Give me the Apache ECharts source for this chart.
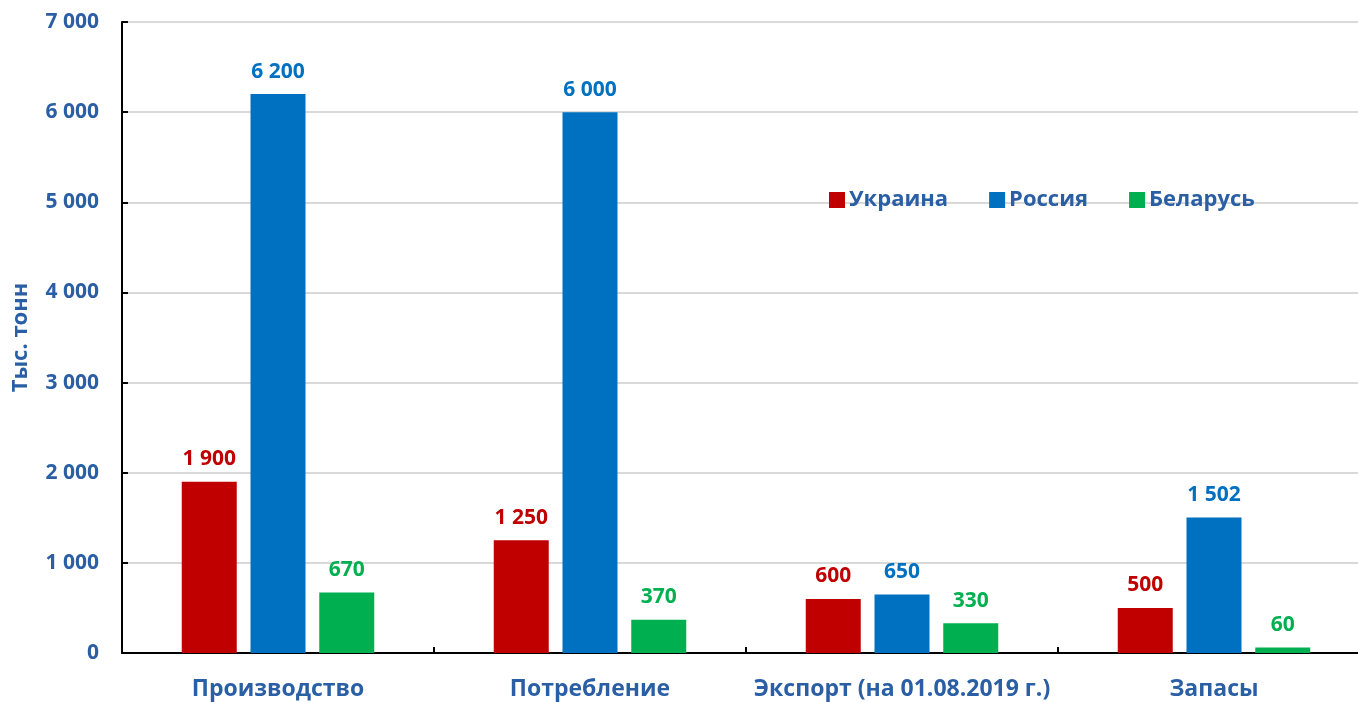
<!DOCTYPE html>
<html>
<head>
<meta charset="utf-8">
<script src="https://cdn.jsdelivr.net/npm/echarts@6/dist/echarts.min.js"></script>
<style>
  html, body { margin: 0; padding: 0; background: #fff; }
  #chart { width: 1358px; height: 702px; }
</style>
</head>
<body>
<div id="chart"></div>
<script>
var categories = ['Производство', 'Потребление', 'Экспорт (на 01.08.2019 г.)', 'Запасы'];
var ukraine = [1900, 1250, 600, 500];
var russia = [6200, 6000, 650, 1502];
var belarus = [670, 370, 330, 60];
var yTicks = [0, 1000, 2000, 3000, 4000, 5000, 6000, 7000];

var textBlue = '#2A5FA5';
var font = '"Open Sans", sans-serif';

function fmt(v) {
  return String(v).replace(/\B(?=(\d{3})+(?!\d))/g, ' ');
}

function makeSeries(name, data, color) {
  return {
    name: name,
    type: 'bar',
    data: data,
    barWidth: 55,
    barGap: '25%',
    itemStyle: { color: color },
    label: {
      show: true,
      position: 'top',
      distance: 12,
      color: color,
      fontFamily: font,
      fontWeight: 'bold',
      fontSize: 21,
      formatter: function (p) { return fmt(p.value); }
    }
  };
}

var chart = echarts.init(document.getElementById('chart'));

var option = {
  animation: false,
  grid: { left: 122, top: 22, right: -12, bottom: 49, containLabel: false, outerBoundsMode: 'none' },
  legend: {
    top: 184,
    left: 824,
    itemWidth: 16,
    itemHeight: 16,
    itemGap: 41,
    icon: 'rect',
    textStyle: { color: textBlue, fontFamily: font, fontWeight: 'bold', fontSize: 22, padding: [0, 0, 0, -1] },
    data: ['Украина', 'Россия', 'Беларусь']
  },
  xAxis: {
    type: 'category',
    data: categories,
    axisLine: { lineStyle: { color: '#000', width: 2 } },
    axisTick: { show: true, inside: true, length: 6, lineStyle: { color: '#000', width: 2 } },
    axisLabel: { interval: 0, color: textBlue, fontFamily: font, fontWeight: 'bold', fontSize: 23, margin: 25 }
  },
  yAxis: {
    type: 'value',
    min: yTicks[0],
    max: yTicks[yTicks.length - 1],
    interval: 1000,
    name: 'Тыс. тонн',
    nameLocation: 'middle',
    nameGap: 90,
    nameRotate: 90,
    nameTextStyle: { color: textBlue, fontFamily: font, fontWeight: 'bold', fontSize: 22 },
    axisLine: { show: true, lineStyle: { color: '#000', width: 2 } },
    axisTick: { show: true, inside: true, length: 6, lineStyle: { color: '#000', width: 2 } },
    splitLine: { lineStyle: { color: '#D9D9D9', width: 2 } },
    axisLabel: {
      color: textBlue, fontFamily: font, fontWeight: 'bold', fontSize: 21, margin: 23,
      formatter: function (v) { return fmt(v); }
    }
  },
  series: [
    makeSeries('Украина', ukraine, '#C00000'),
    makeSeries('Россия', russia, '#0070C0'),
    makeSeries('Беларусь', belarus, '#00B050')
  ]
};

chart.setOption(option);
</script>
</body>
</html>
